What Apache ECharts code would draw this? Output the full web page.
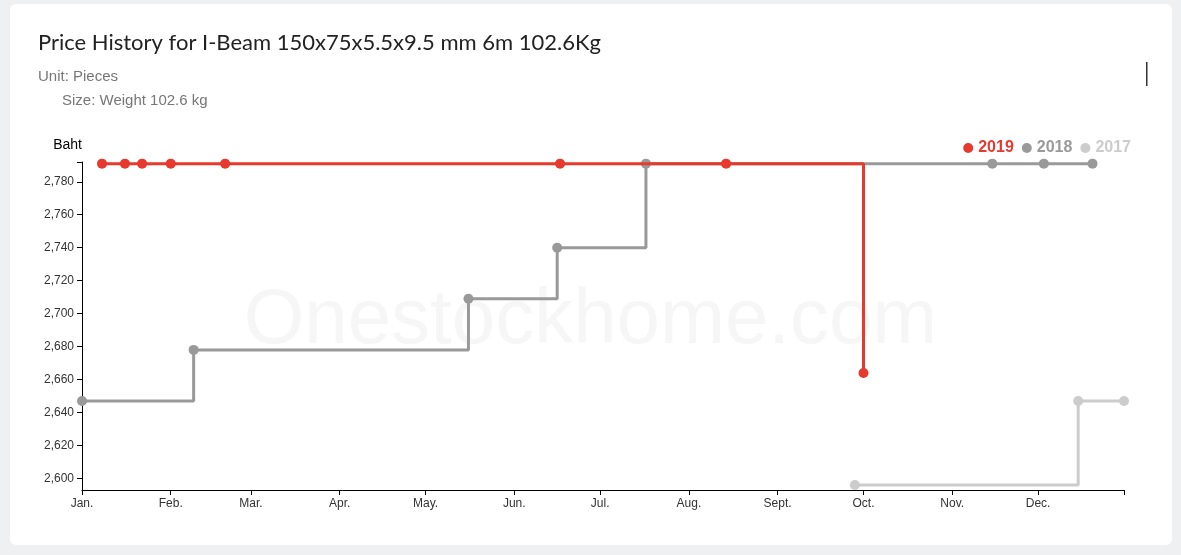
<!DOCTYPE html>
<html><head><meta charset="utf-8">
<script src="https://cdn.jsdelivr.net/npm/echarts@6/dist/echarts.min.js"></script>
<style>
html,body{margin:0;background:#eef0f2;font-family:Roboto,sans-serif}
#card{position:absolute;left:10px;top:4px;width:1162px;height:541px;background:#fff;border-radius:6px}
#chart{position:absolute;left:0;top:0;width:1181px;height:555px}
</style></head><body>
<div id="card"></div>
<div id="chart"></div>
<script>
// day-of-year (0 = Jan 1)
const monthStarts = [0, 31, 59, 90, 120, 151, 181, 212, 243, 273, 304, 334];
const monthLabels = ['Jan.', 'Feb.', 'Mar.', 'Apr.', 'May.', 'Jun.', 'Jul.', 'Aug.', 'Sept.', 'Oct.', 'Nov.', 'Dec.'];
const priceTicks = [2600, 2620, 2640, 2660, 2680, 2700, 2720, 2740, 2760, 2780];
const days2019 = [7, 15, 21, 31, 50, 167, 225, 273];
const price2019 = [2791, 2791, 2791, 2791, 2791, 2791, 2791, 2664];
const days2018 = [0, 39, 135, 166, 197, 318, 336, 353];
const price2018 = [2647, 2678, 2709, 2740, 2791, 2791, 2791, 2791];
const days2017 = [270, 348, 364];
const price2017 = [2596, 2647, 2647];

const colors = { '2019': '#e8392e', '2018': '#999999', '2017': '#cccccc' };
const zip = (a, b) => a.map((d, i) => [d, b[i]]);
const mk = (name, d, p, z) => ({
  name, type: 'line', step: 'end', data: zip(d, p), z,
  symbol: 'circle', symbolSize: 10, color: colors[name],
  lineStyle: { width: 3 }
});

const chart = echarts.init(document.getElementById('chart'));
chart.setOption({
  animation: false,
  title: [
    { text: 'Price History for I-Beam 150x75x5.5x9.5 mm 6m 102.6Kg', left: 33, top: 27,
      textStyle: { fontSize: 22, fontWeight: 'normal', color: '#222', fontFamily: 'Lato' } },
    { text: 'Unit: Pieces', left: 33, top: 64, textStyle: { fontSize: 15, fontWeight: 'normal', color: '#777', fontFamily: 'Liberation Sans' } },
    { text: 'Size: Weight 102.6 kg', left: 57, top: 88, textStyle: { fontSize: 15, fontWeight: 'normal', color: '#777', fontFamily: 'Liberation Sans' } }
  ],
  graphic: [
    { type: 'text', left: 'center', top: 282, z: 0, silent: true,
      style: { text: 'Onestockhome.com', fontSize: 78, fill: '#f6f6f6', fontFamily: 'Liberation Sans' } },
    { type: 'rect', shape: { x: 1146, y: 62, width: 1.5, height: 24 }, style: { fill: '#333' } }
  ],
  legend: {
    right: 45, top: 135, itemWidth: 10, itemHeight: 10, itemGap: 8, icon: 'circle',
    selectedMode: false,
    textStyle: { fontSize: 16, fontWeight: 'bold', fontFamily: 'Liberation Sans' },
    data: ['2019', '2018', '2017'].map(n => ({ name: n, textStyle: { color: colors[n] } }))
  },
  grid: { left: 82, right: 57, top: 162, bottom: 65 },
  xAxis: {
    type: 'value', min: 0, max: 364,
    splitLine: { show: false },
    axisLine: { lineStyle: { color: '#000' } },
    axisTick: { customValues: monthStarts.concat([364]), lineStyle: { color: '#000' } },
    axisLabel: {
      customValues: monthStarts, color: '#333', fontSize: 12, fontFamily: 'Liberation Sans',
      formatter: v => monthLabels[monthStarts.indexOf(v)] || ''
    }
  },
  yAxis: {
    type: 'value', min: 2593, max: 2792,
    name: 'Baht', nameGap: 10, nameTextStyle: { color: '#000', fontSize: 14, align: 'right', fontFamily: 'Liberation Sans' },
    splitLine: { show: false },
    axisLine: { show: true, lineStyle: { color: '#000' } },
    axisTick: { show: true, customValues: priceTicks.concat([2792]), lineStyle: { color: '#000' } },
    axisLabel: { customValues: priceTicks, color: '#333', fontSize: 12, fontFamily: 'Liberation Sans',
      formatter: v => v.toLocaleString('en-US') }
  },
  series: [mk('2019', days2019, price2019, 5), mk('2018', days2018, price2018, 4), mk('2017', days2017, price2017, 3)]
});
</script></body></html>
